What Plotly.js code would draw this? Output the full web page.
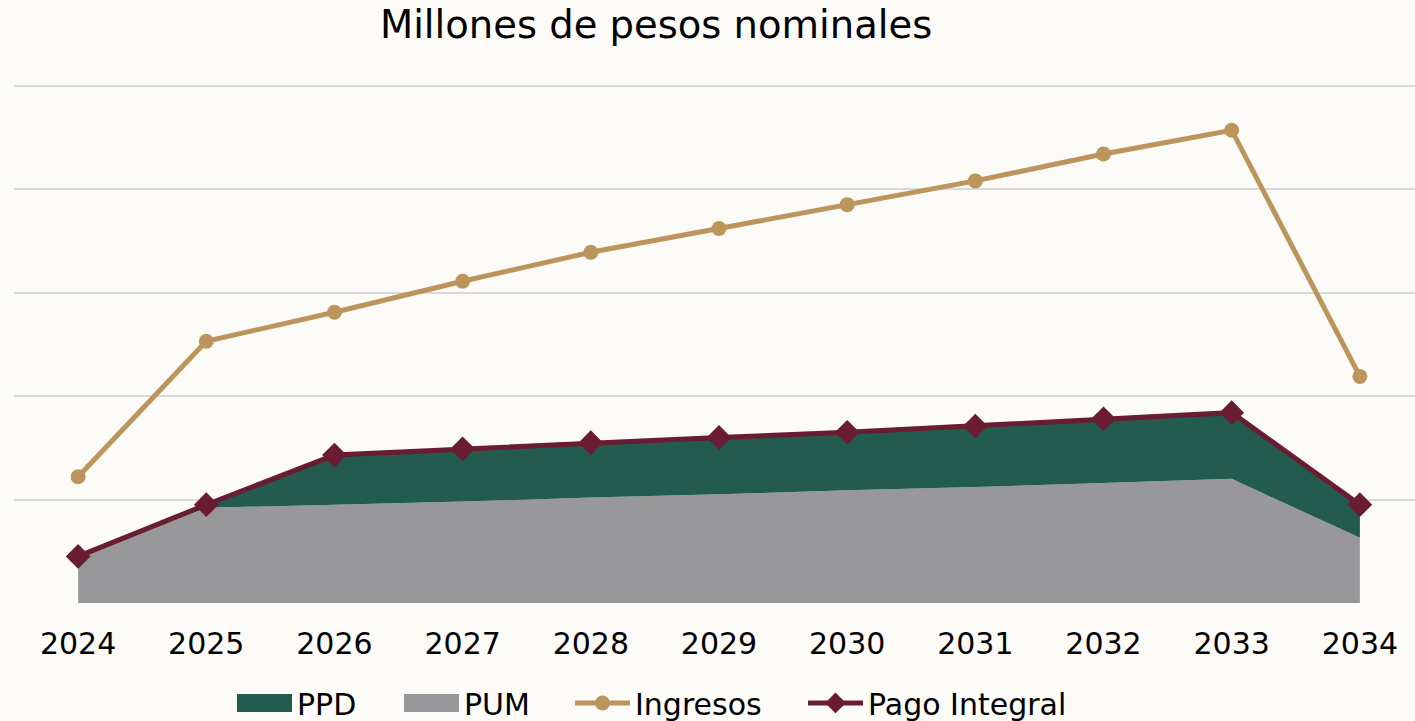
<!DOCTYPE html>
<html>
<head>
<meta charset="utf-8">
<script src="https://cdn.plot.ly/plotly-3.0.1.min.js"></script>
<style>
html,body{margin:0;padding:0;background:#ffffff;}
#chart{width:1415px;height:721px;}
</style>
</head>
<body>
<div id="chart"></div>
<script>
// Values in arbitrary units (one gridline = 100); the reference hides the y-axis labels.
const years = ['2024','2025','2026','2027','2028','2029','2030','2031','2032','2033','2034'];
const pum = [45, 92, 95, 98, 102, 105, 109, 112, 116, 120, 63];
const ppd = [0, 3, 48, 51, 53, 55, 56, 59, 62, 64, 32];
const ingresos = [122, 253, 281, 311, 339, 362, 385, 408, 434, 457, 219];
const pagoIntegral = [45, 95, 143, 149, 155, 160, 165, 171, 178, 184, 95];

const FONT = 'DejaVu Sans, Montserrat, sans-serif';

const traces = [
  {
    x: years, y: pum, name: 'PUM', type: 'scatter', mode: 'lines',
    stackgroup: 'one', line: {width: 0, color: '#98989a'},
    fillcolor: '#98989a', legend: 'legend2'
  },
  {
    x: years, y: ppd, name: 'PPD', type: 'scatter', mode: 'lines',
    stackgroup: 'one', line: {width: 0, color: '#235b4e'},
    fillcolor: '#235b4e', legend: 'legend'
  },
  {
    x: years, y: ingresos, name: 'Ingresos', type: 'scatter', mode: 'lines+markers',
    line: {color: '#bc955c', width: 5},
    marker: {symbol: 'circle', size: 15, color: '#bc955c'},
    legend: 'legend3'
  },
  {
    x: years, y: pagoIntegral, name: 'Pago Integral', type: 'scatter', mode: 'lines+markers',
    line: {color: '#691c32', width: 5},
    marker: {symbol: 'diamond', size: 19, color: '#691c32'},
    legend: 'legend4'
  }
];

function leg(xpx) {
  return {
    orientation: 'h',
    x: xpx / 1415, xanchor: 'left', xref: 'container',
    y: 0.025, yanchor: 'middle', yref: 'container',
    font: {family: FONT, size: 30, color: '#000000'},
    itemwidth: 55,
    bgcolor: 'rgba(0,0,0,0)',
    borderwidth: 0
  };
}

const layout = {
  width: 1415, height: 721,
  paper_bgcolor: '#fcfbf8',
  plot_bgcolor: 'rgba(0,0,0,0)',
  margin: {l: 14, r: 0, t: 65, b: 118},
  font: {family: FONT, color: '#000000', size: 30},
  title: {
    text: 'Millones de pesos nominales',
    font: {family: FONT, size: 38.5, color: '#000000'},
    x: 0.4583, xanchor: 'center', xref: 'paper',
    y: 0.966, yanchor: 'middle', yref: 'container'
  },
  xaxis: {
    type: 'category',
    range: [-0.5, 10.43],
    showgrid: false, zeroline: false, showline: false,
    ticks: '', ticklabelstandoff: 20,
    tickfont: {family: FONT, size: 30, color: '#000000'}
  },
  yaxis: {
    range: [0, 520],
    dtick: 100, tick0: 0,
    showgrid: true, gridcolor: '#d9d9d9', gridwidth: 2,
    zeroline: false, showline: false, showticklabels: false, ticks: ''
  },
  showlegend: true,
  legend: leg(232),
  legend2: leg(399),
  legend3: leg(570),
  legend4: leg(803)
};

const gd = document.getElementById('chart');
Plotly.newPlot(gd, traces, layout, {displayModeBar: false, staticPlot: true}).then(function () {
  // Taller fill swatches for the area series in the legend
  gd.querySelectorAll('.legendfill path').forEach(function (p) {
    try {
      const bb = p.getBBox();
      if (bb.width > 0) {
        p.setAttribute('d', 'M' + bb.x + ',-9h' + bb.width + 'v18h-' + bb.width + 'z');
      }
    } catch (e) {}
  });
});
</script>
</body>
</html>
